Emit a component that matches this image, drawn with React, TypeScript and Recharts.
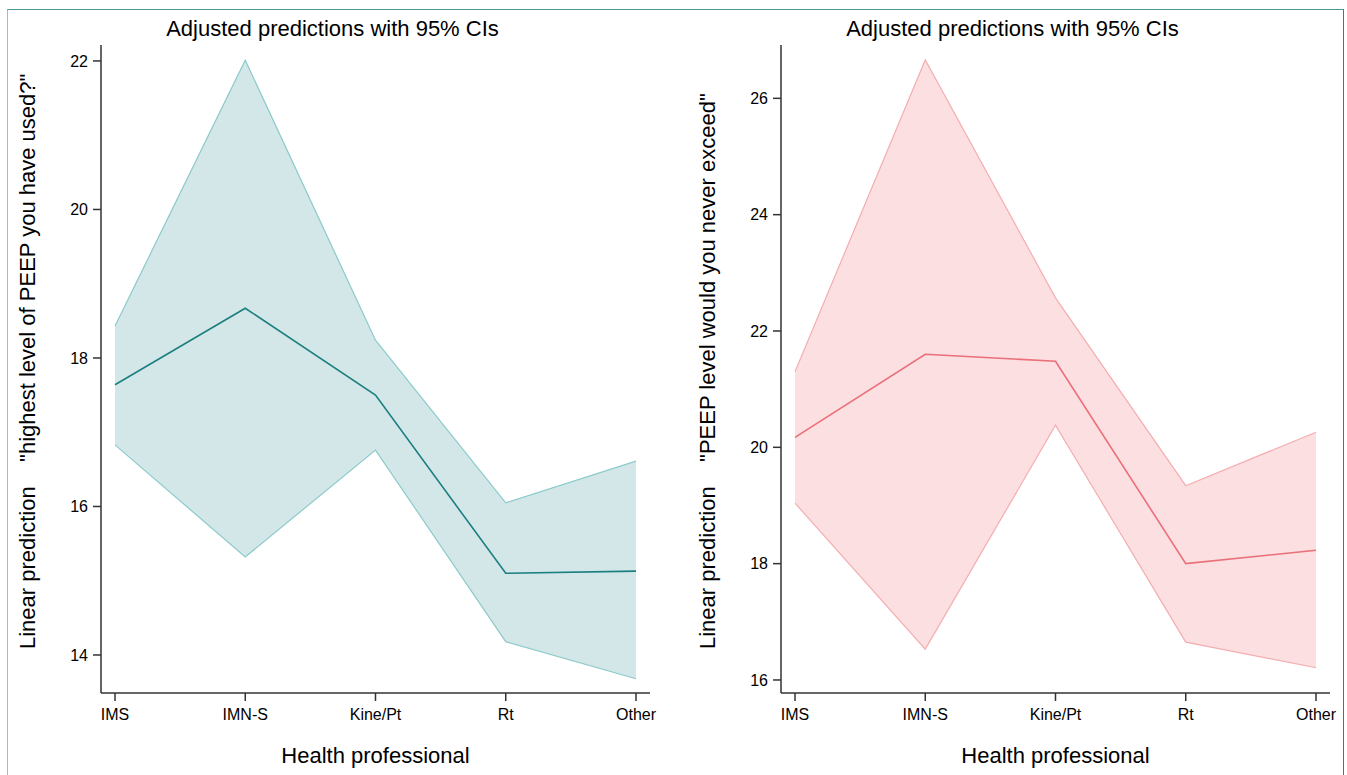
import React from "react";
import { ComposedChart, Area, Line, XAxis, YAxis } from "recharts";

const professions = ["IMS", "IMN-S", "Kine/Pt", "Rt", "Other"];

// "highest level of PEEP you have used?"
const usedMean = [17.64, 18.67, 17.5, 15.1, 15.13];
const usedLow = [16.83, 15.32, 16.76, 14.18, 13.68];
const usedHigh = [18.43, 22.01, 18.24, 16.05, 16.61];
const usedTicks = [14, 16, 18, 20, 22];

// "PEEP level would you never exceed"
const exceedMean = [20.17, 21.6, 21.48, 18.0, 18.23];
const exceedLow = [19.04, 16.53, 20.38, 16.65, 16.21];
const exceedHigh = [21.3, 26.66, 22.57, 19.34, 20.26];
const exceedTicks = [16, 18, 20, 22, 24, 26];

const axisColor = "#333";
const textColor = "#000";

const buildRows = (mean: number[], low: number[], high: number[]) =>
  professions.map((name, i) => ({
    name,
    mean: mean[i],
    range: [low[i], high[i]],
  }));

const Panel = ({ left, mean, low, high, ticks, domain, fill, edge, line, ytitle }: any) => {
  const rows = buildRows(mean, low, high);
  return (
    <div style={{ position: "absolute", left, top: 0, width: 680, height: 775 }}>
      <div
        style={{
          position: "absolute",
          left: 0,
          top: 18,
          width: 665,
          textAlign: "center",
          fontSize: 22,
          lineHeight: 1,
          color: textColor,
          whiteSpace: "nowrap",
        }}
      >
        Adjusted predictions with 95% CIs
      </div>
      <div
        style={{
          position: "absolute",
          left: 17,
          top: 649,
          transform: "rotate(-90deg)",
          transformOrigin: "0 0",
          fontSize: 22,
          lineHeight: 1,
          color: textColor,
          whiteSpace: "pre",
        }}
      >
        {ytitle}
      </div>
      <ComposedChart
        width={680}
        height={775}
        data={rows}
        margin={{ top: 45, right: 30, bottom: 0, left: 21 }}
      >
        <XAxis
          dataKey="name"
          scale="point"
          interval={0}
          padding={{ left: 14, right: 14 }}
          height={82}
          tickSize={8}
          tickMargin={8}
          axisLine={{ stroke: axisColor, strokeWidth: 1.5 }}
          tickLine={{ stroke: axisColor, strokeWidth: 1.5 }}
          tick={{ fill: textColor, fontSize: 16 }}
          label={{
            value: "Health professional",
            position: "insideBottom",
            offset: 12,
            fontSize: 22,
            fill: textColor,
          }}
        />
        <YAxis
          type="number"
          domain={domain}
          ticks={ticks}
          allowDataOverflow
          width={80}
          tickSize={8}
          tickMargin={5}
          axisLine={{ stroke: axisColor, strokeWidth: 1.5 }}
          tickLine={{ stroke: axisColor, strokeWidth: 1.5 }}
          tick={{ fill: textColor, fontSize: 16 }}
        />
        <Area
          type="linear"
          dataKey="range"
          fill={fill}
          fillOpacity={1}
          stroke={edge}
          strokeWidth={1.2}
          isAnimationActive={false}
          dot={false}
          activeDot={false}
        />
        <Line
          type="linear"
          dataKey="mean"
          stroke={line}
          strokeWidth={1.6}
          dot={false}
          activeDot={false}
          isAnimationActive={false}
        />
      </ComposedChart>
    </div>
  );
};

export default function App() {
  return (
    <div
      style={{
        position: "absolute",
        left: 0,
        top: 0,
        width: 1347,
        height: 775,
        background: "#fff",
        overflow: "hidden",
        fontFamily: "'Liberation Sans', Arial, Helvetica, sans-serif",
      }}
    >
      <div
        style={{
          position: "absolute",
          left: 7,
          top: 9,
          width: 1335,
          height: 800,
          borderTop: "1.5px solid #4c9a9e",
          borderLeft: "1.5px solid #8cc4d6",
          borderRight: "1.5px solid #2f7f86",
        }}
      />
      <Panel
        left={0}
        mean={usedMean}
        low={usedLow}
        high={usedHigh}
        ticks={usedTicks}
        domain={[13.488, 22.215]}
        fill="#d3e7e8"
        edge="#8ccaca"
        line="#1b7f80"
        ytitle={'Linear prediction    "highest level of PEEP you have used?"'}
      />
      <Panel
        left={680}
        mean={exceedMean}
        low={exceedLow}
        high={exceedHigh}
        ticks={exceedTicks}
        domain={[15.776, 26.917]}
        fill="#fbdfe1"
        edge="#f4aeb1"
        line="#ea6f78"
        ytitle={'Linear prediction    "PEEP level would you never exceed"'}
      />
    </div>
  );
}
